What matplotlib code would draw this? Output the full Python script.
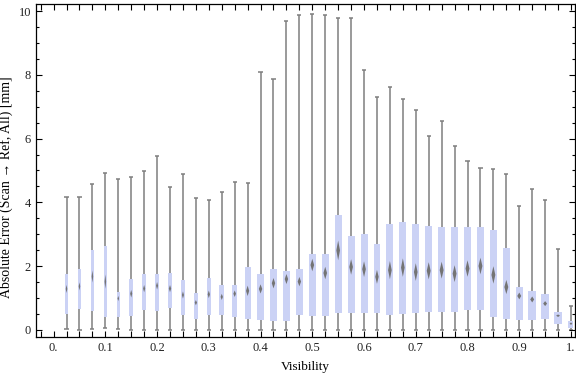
import numpy as np
import matplotlib
matplotlib.use('Agg')
import matplotlib.pyplot as plt
from matplotlib.ticker import MultipleLocator, FuncFormatter

plt.rcParams['font.family'] = ['Liberation Serif', 'DejaVu Serif']

# --------------------------------------------------------------------------------------------
# data (one box per visibility bin)
visibility = np.arange(1, 41) * 0.025
whisk_lo = [0.02, 0.0, 0.02, 0.04, 0.02, 0.0, 0.0, 0.0, 0.0, 0.0,
            0.0, 0.0, 0.0, 0.0, 0.0, 0.0, 0.0, 0.0, 0.0, 0.0,
            0.0, 0.0, 0.0, 0.0, 0.0, 0.0, 0.0, 0.0, 0.0, 0.0,
            0.0, 0.0, 0.0, 0.0, 0.0, 0.0, 0.0, 0.0, 0.0, 0.0]
q1 = [0.49, 0.64, 0.59, 0.39, 0.39, 0.42, 0.62, 0.60, 0.67, 0.45,
      0.34, 0.45, 0.45, 0.39, 0.34, 0.32, 0.28, 0.28, 0.45, 0.42,
      0.42, 0.51, 0.51, 0.54, 0.51, 0.45, 0.48, 0.54, 0.57, 0.57,
      0.57, 0.63, 0.61, 0.39, 0.34, 0.29, 0.29, 0.35, 0.17, 0.04]
median = [1.28, 1.36, 1.67, 1.51, 0.98, 1.13, 1.29, 1.38, 1.29, 1.09,
          0.85, 1.11, 1.03, 1.13, 1.22, 1.28, 1.46, 1.59, 1.51, 2.03,
          1.78, 2.49, 1.97, 1.90, 1.66, 1.87, 1.95, 1.81, 1.85, 1.87,
          1.76, 1.92, 2.00, 1.72, 1.34, 1.06, 0.95, 0.82, 0.44, 0.19]
q3 = [1.76, 1.91, 2.51, 2.63, 1.19, 1.60, 1.76, 1.76, 1.79, 1.57,
      1.15, 1.63, 1.41, 1.41, 1.97, 1.76, 1.91, 1.85, 1.91, 2.38,
      2.38, 3.61, 2.95, 3.01, 2.70, 3.32, 3.39, 3.32, 3.26, 3.22,
      3.22, 3.22, 3.22, 3.13, 2.57, 1.35, 1.22, 1.13, 0.56, 0.26]
whisk_hi = [4.18, 4.18, 4.58, 4.91, 4.72, 4.79, 4.97, 5.45, 4.47, 4.89,
            4.13, 4.07, 4.32, 4.65, 4.62, 8.09, 7.86, 9.68, 9.87, 9.92,
            9.87, 9.80, 9.77, 8.14, 7.32, 7.61, 7.25, 6.90, 6.07, 6.54,
            5.76, 5.29, 5.07, 5.04, 4.89, 3.88, 4.41, 4.07, 2.53, 0.75]
# relative box widths (Mathematica scales them per bin)
rel_width = [3, 3, 3, 3, 3, 4, 4, 4, 4.5, 4,
             4.5, 4.5, 4.5, 5, 6, 6.5, 6.5, 6.5, 6.5, 7,
             7, 7, 7, 7, 6.5, 7, 7, 7, 7.5, 7.5,
             7.5, 7.5, 7.5, 7.5, 7.5, 7.5, 7.5, 7.5, 7.5, 5]
# --------------------------------------------------------------------------------------------

x = visibility
lo, a, m, b, hi = map(np.array, (whisk_lo, q1, median, q3, whisk_hi))
w = np.array(rel_width) / 517.0

fig = plt.figure(figsize=(5.76, 3.77), dpi=100)
ax = fig.add_axes([0.0625, 0.106, 0.936, 0.883])

gray = '#7f7f7f'
ax.vlines(x, lo, hi, color=gray, lw=1.1, zorder=1)
ax.hlines(hi, x - 0.004, x + 0.004, color=gray, lw=1.1, zorder=1)
ax.hlines(lo, x - 0.004, x + 0.004, color=gray, lw=1.1, zorder=1)
ax.bar(x, b - a, bottom=a, width=w, color='#cbd2f5', edgecolor='none', zorder=2)

# median diamonds
for xi, mi, wi, iqr in zip(x, m, w, b - a):
    hh = max(0.1 * iqr, 0.04)
    hw = 0.26 * wi
    ax.fill([xi - hw, xi, xi + hw, xi], [mi, mi + hh, mi, mi - hh],
            color='#747474', lw=0, zorder=3)

ax.set_xlim(-0.034, 1.008)
ax.set_ylim(-0.23, 10.22)
ax.xaxis.set_major_locator(MultipleLocator(0.1))
ax.xaxis.set_minor_locator(MultipleLocator(0.025))
ax.yaxis.set_major_locator(MultipleLocator(2))
ax.yaxis.set_minor_locator(MultipleLocator(0.5))
ax.xaxis.set_major_formatter(FuncFormatter(lambda v, p: '0.' if abs(v) < 1e-9 else ('1.' if abs(v - 1) < 1e-9 else '%.1f' % v)))
ax.tick_params(which='both', direction='in', top=True, right=True, labelsize=9,
               labelcolor='#222222', width=0.8)
ax.tick_params(which='major', length=4.5)
ax.tick_params(which='minor', length=2.5)
ax.tick_params(axis='x', which='both', length=4)
for s in ax.spines.values():
    s.set_linewidth(0.9)

ax.set_xlabel('Visibility', fontsize=9.5, labelpad=5)
ax.set_ylabel('Absolute Error (Scan → Ref, All) [mm]', fontsize=10)
ax.yaxis.set_label_coords(-0.042, 0.45)

fig.savefig('out.png', dpi=100)
